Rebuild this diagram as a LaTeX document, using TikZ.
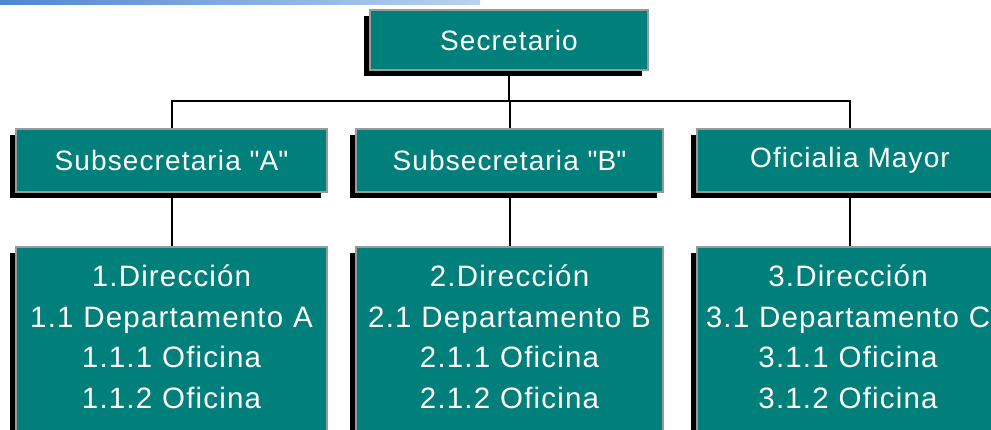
\documentclass[tikz,border=0pt]{standalone}
\usepackage{fontspec}
\setmainfont{Liberation Sans}[LetterSpace=4]
\usetikzlibrary{shadows}
\definecolor{boxteal}{HTML}{007F7B}
\definecolor{boxedge}{HTML}{9A9A9A}
\definecolor{barleft}{HTML}{4F86D2}
\definecolor{barright}{HTML}{B9D3EF}
\begin{document}
\begin{tikzpicture}[x=1pt,y=-1pt,
  orgbox/.style={draw=boxedge, line width=1.5pt, fill=boxteal, inner sep=0pt,
    text=white, font=\fontsize{28}{40}\selectfont,
    drop shadow={shadow xshift=-6pt, shadow yshift=-6pt, fill=black, opacity=1}},
  subbox/.style={orgbox, minimum height=63pt},
  dirbox/.style={orgbox, minimum height=198pt},
  boxtext/.style={text=white, font=\fontsize{29.5}{40.5}\selectfont, align=center,
    inner sep=0pt, text width=330pt, anchor=base},
  link/.style={draw=black, line width=2pt}]
\useasboundingbox (0,0) rectangle (991,430);
\clip (0,0) rectangle (991,430);
\fill[white] (0,0) rectangle (991,430);
\shade[left color=barleft, right color=barright] (0,0) rectangle (480,5);

% nodes
\node[orgbox, minimum width=278pt, minimum height=60pt] (sec) at (509,40) {Secretario};

\node[subbox, minimum width=311pt] (subA) at (171.5,160.5) {Subsecretaria \textquotedbl A\textquotedbl};
\node[subbox, minimum width=307pt] (subB) at (509.5,160.5) {Subsecretaria \textquotedbl B\textquotedbl};
\node[subbox, minimum width=306pt] (subC) at (850,160.5) {Oficialia Mayor};

\node[dirbox, minimum width=311pt] (dirA) at (171.5,346) {};
\node[dirbox, minimum width=307pt] (dirB) at (509.5,346) {};
\node[dirbox, minimum width=306pt] (dirC) at (850,346) {};

\node[boxtext] (dirAtext) at (171.5,287) {1.Dirección\\1.1 Departamento A\\1.1.1 Oficina\\1.1.2 Oficina};
\node[boxtext] (dirBtext) at (509.5,287) {2.Dirección\\2.1 Departamento B\\2.1.1 Oficina\\2.1.2 Oficina};
\node[boxtext] (dirCtext) at (848,287) {3.Dirección\\3.1 Departamento C\\3.1.1 Oficina\\3.1.2 Oficina};

% connectors
\coordinate (busL) at (171.5,101);
\coordinate (busR) at (850,101);
\draw[link] (sec.south) -- (sec.south |- busL);
\draw[link] (subA.north) -- (busL) -- (busR) -- (subC.north);
\draw[link] (subB.north) -- (subB.north |- busL);
\draw[link] (subA.south) -- (dirA.north);
\draw[link] (subB.south) -- (dirB.north);
\draw[link] (subC.south) -- (dirC.north);
\end{tikzpicture}
\end{document}
